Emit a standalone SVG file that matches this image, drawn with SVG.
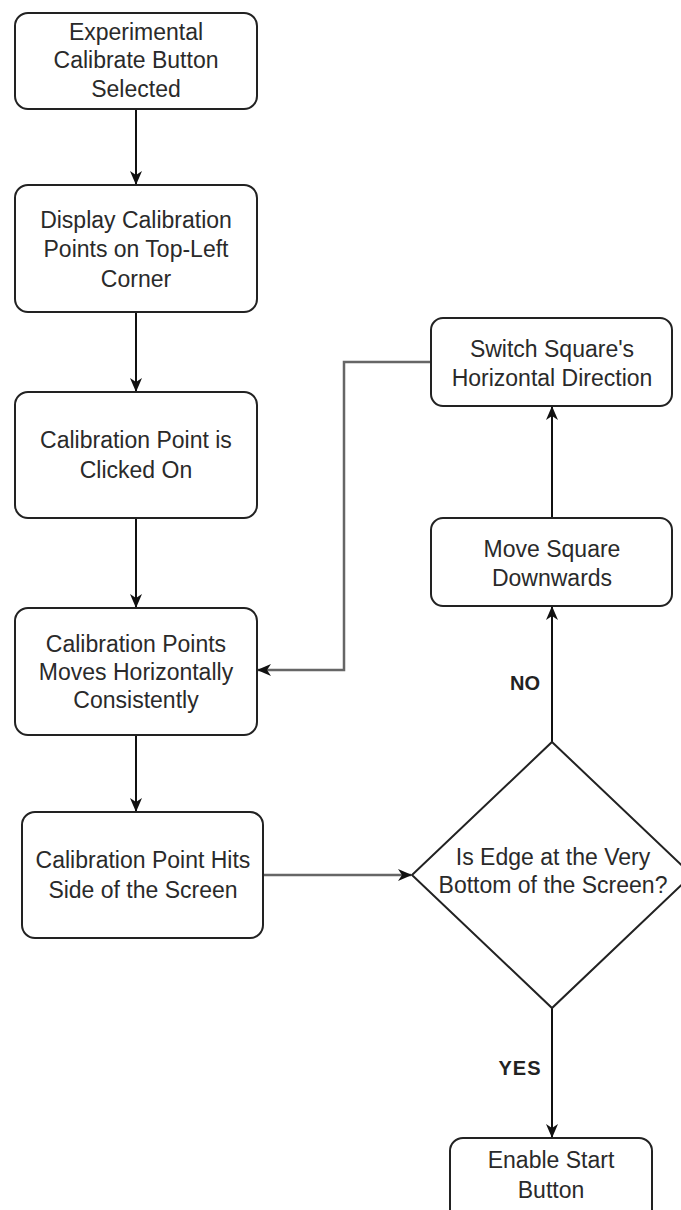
<svg xmlns="http://www.w3.org/2000/svg" width="681" height="1210" viewBox="0 0 681 1210">
<style>
.box{fill:#fff;stroke:#222;stroke-width:2}
.t{font-family:"Liberation Sans",Arial,sans-serif;font-size:23px;fill:#2a2a2a;text-anchor:middle}
.lbl{font-family:"Liberation Sans",Arial,sans-serif;font-size:20px;font-weight:bold;fill:#222;text-anchor:middle}
.c{fill:none;stroke:#111;stroke-width:2}
.g{fill:none;stroke:#666;stroke-width:2.5}
</style>
<defs>
<marker id="arr" markerUnits="userSpaceOnUse" markerWidth="14" markerHeight="12" refX="13" refY="6" orient="auto" viewBox="0 0 14 12">
<path d="M0,0 L14,6 L0,12 L4,6 z" fill="#111"/>
</marker>
</defs>
<rect width="681" height="1210" fill="#fff"/>
<g id="connectors">
<path class="c" d="M136,109 V184" marker-end="url(#arr)"/>
<path class="c" d="M136,312 V391" marker-end="url(#arr)"/>
<path class="c" d="M136,518 V607" marker-end="url(#arr)"/>
<path class="c" d="M136,735 V811" marker-end="url(#arr)"/>
<path class="g" d="M263,875 H411" marker-end="url(#arr)"/>
<path class="c" d="M552,742 V607" marker-end="url(#arr)"/>
<path class="c" d="M552,518 V407" marker-end="url(#arr)"/>
<path class="g" d="M431,362 H344 V670 H258" marker-end="url(#arr)"/>
<path class="c" d="M552,1008 V1137" marker-end="url(#arr)"/>
</g>
<g id="n1">
<rect class="box" x="15" y="13" width="242" height="96" rx="13"/>
<text class="t" x="136" y="40">Experimental</text>
<text class="t" x="136" y="68">Calibrate Button</text>
<text class="t" x="136" y="97">Selected</text>
</g>
<g id="n2">
<rect class="box" x="15" y="185" width="242" height="127" rx="13"/>
<text class="t" x="136" y="228">Display Calibration</text>
<text class="t" x="136" y="257">Points on Top-Left</text>
<text class="t" x="136" y="287">Corner</text>
</g>
<g id="n3">
<rect class="box" x="15" y="392" width="242" height="126" rx="13"/>
<text class="t" x="136" y="448">Calibration Point is</text>
<text class="t" x="136" y="478">Clicked On</text>
</g>
<g id="n4">
<rect class="box" x="15" y="608" width="242" height="127" rx="13"/>
<text class="t" x="136" y="652">Calibration Points</text>
<text class="t" x="136" y="680">Moves Horizontally</text>
<text class="t" x="136" y="708">Consistently</text>
</g>
<g id="n5">
<rect class="box" x="22" y="812" width="241" height="126" rx="13"/>
<text class="t" x="143" y="868">Calibration Point Hits</text>
<text class="t" x="143" y="898">Side of the Screen</text>
</g>
<g id="n6">
<rect class="box" x="431" y="318" width="241" height="88" rx="12"/>
<text class="t" x="552" y="357">Switch Square's</text>
<text class="t" x="552" y="386">Horizontal Direction</text>
</g>
<g id="n7">
<rect class="box" x="431" y="518" width="241" height="88" rx="12"/>
<text class="t" x="552" y="557">Move Square</text>
<text class="t" x="552" y="586">Downwards</text>
</g>
<g id="n8">
<polygon class="box" points="552,742 692,875 552,1008 412,875"/>
<text class="t" x="553" y="865">Is Edge at the Very</text>
<text class="t" x="553" y="893">Bottom of the Screen?</text>
</g>
<g id="n9">
<rect class="box" x="450" y="1138" width="202" height="100" rx="13"/>
<text class="t" x="551" y="1168">Enable Start</text>
<text class="t" x="551" y="1198">Button</text>
</g>
<g id="labels">
<text class="lbl" x="525" y="690">NO</text>
<text class="lbl" x="520" y="1075" letter-spacing="1">YES</text>
</g>
</svg>
